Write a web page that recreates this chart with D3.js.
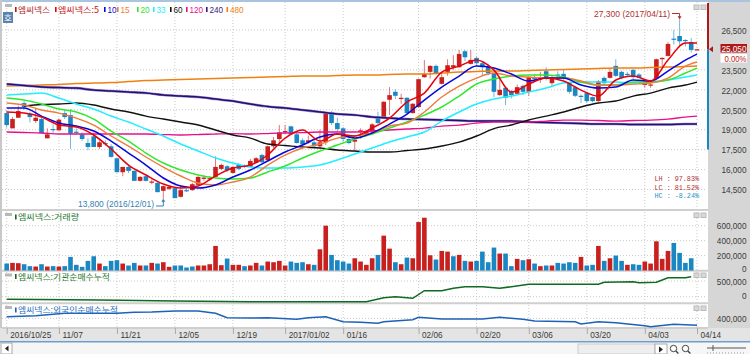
<!DOCTYPE html>
<meta charset="utf-8">
<style type="text/css">
  html, body { margin: 0; padding: 0; background: #fff; overflow: hidden; }
  svg { display: block; }
  text { font-family: "Liberation Sans", sans-serif; font-size: 9px; }
  .kr { font-family: "Noto Sans CJK KR", sans-serif; font-size: 8.5px; }
  .mono { font-family: "Liberation Mono", monospace; font-size: 8px; }
  .axis text { fill: #3a3a3a; }
  .axis .domain, .axis line { display: none; }
  .grid { stroke: #c9c9c9; stroke-width: 1; stroke-dasharray: 1 2; }
  .sep { stroke: #cfcfcf; stroke-width: 2; }
</style>
<body></body>
<script src="https://d3js.org/d3.v7.min.js"></script>
<script>

var open = [20250,19100,19900,21000,20200,19650,19800,18350,19050,18950,
  20250,20100,18850,18650,18000,18500,17700,18000,17750,16850,
  15800,16200,15900,15150,15500,15050,15000,14400,14550,14600,
  13950,14450,14450,14850,15300,15300,15450,16050,16250,15750,
  16350,16300,16200,16500,17100,16700,17750,18300,18800,19250,
  18650,18200,18050,18050,17750,18050,20300,19500,19100,18300,
  18100,18800,18600,18900,19950,19950,21250,21850,21350,21400,
  20250,20700,22950,23350,23800,22450,23350,23700,23700,24900,
  23950,24400,24000,23800,23250,21600,22150,21900,21700,22300,
  21850,22900,22800,23400,22500,23150,23200,22500,22200,21550,
  21750,21450,21150,22900,22900,23800,23350,23200,23500,23150,
  22400,22350,22900,24300,24550,25850,26050,25750,25600,25000];
var close = [19350,19800,20400,20700,19950,19900,18750,18650,19000,19750,
  19950,18700,18800,18300,17700,17700,18050,17950,16950,15800,
  16200,15900,15150,15450,15150,15100,14300,14750,14700,13850,
  14450,14400,14900,15450,15400,15350,16200,16350,15950,16200,
  16050,16250,16650,16850,16550,17750,18200,18800,18900,18650,
  18000,17900,18200,17750,18050,20250,19500,19050,18300,18000,
  18250,18950,18900,19400,19500,21100,21600,21550,21400,20250,
  20950,22800,23200,23800,23200,22950,23850,23850,24700,24450,
  24250,24000,23700,23250,21850,22000,21400,21600,22200,21850,
  22950,22850,22950,22900,22950,23100,22950,21850,21550,21500,
  21150,21150,22650,22500,23350,23050,22900,23150,22950,22900,
  22450,22400,24300,24400,25450,25800,25650,25700,25000,25050];
var high = [20450,19950,20800,21150,20350,20600,19900,19100,19400,19850,
  20500,20550,19100,18800,18350,18800,18200,18200,17900,16900,
  16200,16300,15950,15500,15550,15250,15050,14800,14800,14650,
  14850,14600,15000,15500,15550,15500,17000,16450,16350,16250,
  16500,16400,16800,16950,17200,17800,18450,19350,19350,19300,
  18750,18350,18550,18200,19000,20350,20400,19900,19200,18400,
  18350,19100,18950,19500,20350,21150,22200,22050,21700,21450,
  21000,22850,24250,23850,23900,23300,24300,24600,25000,25000,
  25000,24500,24100,23950,23300,23000,22250,22000,22400,22400,
  23000,23200,23350,23700,23050,23400,23550,22600,22300,21650,
  21850,21500,22750,23000,23650,24300,23450,23350,23550,23250,
  22700,22750,24350,24450,25600,26500,27300,25800,25900,25050];
var low = [19150,19100,19900,20500,19550,19500,18700,18350,18750,18950,
  19800,17550,18650,18150,17450,17700,17550,17800,16900,15800,
  15500,15750,15150,15100,15100,14900,14300,13800,14450,13850,
  13900,14300,14400,14800,15150,15150,15400,15950,15800,15700,
  15950,16100,16200,16450,16500,16650,17600,17900,18700,18650,
  17950,17850,17950,17650,17550,17850,19350,18900,18100,17900,
  17400,18300,18500,18850,19400,19900,20100,21300,20950,20200,
  20200,20650,22900,22850,23150,22400,23050,23500,23650,24150,
  23900,23750,23100,23100,21450,21550,20850,21350,21600,21600,
  21550,22600,22500,22700,22300,22750,22750,21700,21450,21000,
  21000,21050,21100,22450,22850,22950,22800,23000,22800,22850,
  22150,22150,22850,23750,24500,25400,25200,25250,24800,25000];

// moving averages are read every third session, last one at the last session
var maIdx = d3.range(0, 120, 3).concat([119]);
var ma5 = [20330,20250,19950,19350,19200,18600,17550,16340,15590,14910,14610,14760,15515,16115,16340,17095,18370,18975,18145,18675,18525,19125,19875,21080,21755,23335,23785,24240,23485,21830,22430,22885,22660,21980,21530,22735,23035,22660,24240,25515,25515];
var ma10 = [20630,20630,20025,19500,19275,18900,18145,17245,16340,15365,14760,14610,14840,15440,15965,16645,17320,17845,18450,18675,18370,18750,19425,20175,21230,22210,23035,23785,23635,23185,22660,22885,22885,22360,22130,22210,22735,22660,23410,24240,24690];
var ma15 = [21005,20855,20480,20250,19875,19350,18525,17770,16945,16190,15515,14990,14840,15065,15440,16340,17095,17620,17920,18370,18525,18750,19275,19500,20330,21455,22280,22885,23260,23035,22960,22885,22885,22660,22360,22360,22430,22510,22885,23785,24090];
var ma20 = [21380,21230,20930,20555,20330,19800,18900,18145,17245,16495,15965,15590,15365,15290,15365,15815,16270,16870,17395,17845,18300,18675,19125,19575,20100,20705,21530,22435,22810,23035,23110,23110,22960,22585,22360,22360,22585,22585,22735,23260,23635];
var ma33 = [21605,21680,21755,21380,20930,20555,20025,19575,19050,18525,17920,17395,16870,16490,16190,16115,16115,16190,16340,16720,17170,17620,18070,18450,18825,19650,20330,20930,21305,21530,21830,22130,22510,22585,22585,22585,22510,22585,22735,22960,23110];
var ma60 = [null,20780,20890,20930,21005,20855,20555,20330,20025,19800,19575,19350,18975,18600,18370,17920,17810,17695,17620,17470,17395,17320,17320,17430,17545,17770,18070,18525,19085,19350,19725,20025,20330,20705,21005,21155,21530,21755,22130,22360,22585];
var ma120 = [18825,18790,18750,18675,18675,18675,18675,18675,18675,18635,18600,18635,18675,18710,18675,18710,18750,18785,18825,18825,18825,18900,18975,19050,19125,19275,19350,19500,19575,19575,19575,19650,19725,19725,19690,19650,19690,19725,19800,19950,20025];
var ma240 = [22435,22320,22210,22170,22130,21980,21905,21830,21755,21605,21530,21455,21305,21155,20930,20740,20630,20480,20330,20175,20100,19950,19875,19800,19765,19725,19690,19650,19650,19650,19575,19540,19500,19465,19425,19425,19390,19390,19390,19425,19425];
var ma480 = [22280,22320,22360,22395,22470,22510,22545,22620,22695,22735,22770,22810,22845,22885,22920,22960,22995,23035,23035,23070,23110,23110,23150,23185,23185,23260,23335,23375,23410,23410,23450,23485,23525,23560,23600,23635,23635,23675,23710,23750,23785];

// volume in thousands of shares, B = blue bar, R = red bar
var volume = [93,102,98,84,58,53,84,53,58,53,58,182,76,49,129,191,93,58,129,138,93,67,102,67,67,102,93,111,49,67,67,40,53,67,67,84,329,71,160,76,76,58,
  67,102,67,120,111,129,67,120,102,111,84,76,284,600,209,138,120,93,164,120,76,164,209,467,293,111,84,173,164,649,707,204,147,262,253,191,209,129,120,129,253,111,307,227,
  227,58,156,138,151,93,58,67,67,102,93,111,102,182,67,76,329,129,164,200,129,76,84,76,120,93,391,156,262,369,236,102,164,0];
var volDir = "BRRBBRBRBRBBBBBBRBBBRBBRBRBRRBBBBRRRRRBRRB".slice(0, 42) +
  "RRBRRRRBBBRBRRBBBBRRRRBRRBRBRRRRBRRBRBRBBBBR" +
  "BBRBRBRBRBBBBRBBRBRBBRBBRRRRRBBBBR";

// cumulative net buying in thousands, read at the sessions listed
var instIdx = [0,16,29,42,62,65,67,70,72,75,77,79,82,85,90,96,102,103,108,109,112,114,117,118];
var instNet = [-83,-105,-137,-159,-159,-32,0,-51,191,191,268,318,318,268,395,395,395,459,478,446,459,605,605,637];
var forIdx = [0,5,10,19,22,25,29,33,36,38,42,45,50,52,55,58,61,64,65,70,71,75,82,85,89,91,98,99,102,105,110,111,115,119];
var forNet = [454,486,562,562,594,604,636,636,562,422,413,422,371,422,454,295,276,244,295,359,435,381,381,435,371,317,295,222,295,263,168,136,212,180];

var dateIdx = [0,9,19,29,39,48,58,71,81,90,100,110,119];
var dateLabels = ["2016/10/25","11/07","11/21","12/05","12/19","2017/01/02","01/16","02/06","02/20","03/06","03/20","04/03","04/14"];
var priceGrid = [14500,16000,17500,19000,20500,22000,23500,25000,26500];
var priceTicks = [14500,16000,17500,19000,20500,22000,23500,26500];
var volTicks = [0,200,400,600];

var red = "#c8201f", blue = "#1a86c2";

var width = 750, height = 354;
var svg = d3.select("body").append("svg").attr("width", width).attr("height", height);

var x = d3.scaleLinear().domain([0, 119]).range([6.7, 697]);
var y = d3.scaleLinear().domain([14500, 26500]).range([189.5, 30]);
var yVol = d3.scaleLinear().domain([0, 600]).range([270.5, 225.7]);
var yInst = d3.scaleLinear().domain([0, 500]).range([296.7, 281]);
var yFor = d3.scaleLinear().domain([0, 400]).range([331, 318.4]);

// the original uses a narrow bitmap font, so labels get squeezed to its widths
function labelWidth(s) {
  var w = 0;
  for (var k = 0; k < s.length; k++) {
    w += ",./:".indexOf(s[k]) >= 0 ? 2.28 : s[k] == "%" ? 6 : 4.56;
  }
  return w;
}
function squeeze(sel) {
  sel.attr("textLength", function () { return labelWidth(this.textContent); })
    .attr("lengthAdjust", "spacingAndGlyphs");
}
// end aligned labels start at their own width left of the edge
function alignEnd(sel, edge) {
  sel.attr("text-anchor", "start")
    .attr("x", function () { return edge - labelWidth(this.textContent); })
    .call(squeeze);
}

// frame
svg.append("rect").attr("x", 0).attr("y", 0).attr("width", width).attr("height", 2).attr("fill", "#a9c4de");
svg.append("rect").attr("x", 0).attr("y", 0).attr("width", 2).attr("height", 342).attr("fill", "#c8c8c8");
svg.append("rect").attr("x", 708).attr("y", 2).attr("width", 42).attr("height", 326).attr("fill", "#d6d6d6");
svg.append("rect").attr("x", 0).attr("y", 328).attr("width", width).attr("height", 14).attr("fill", "#e4e4e4");
svg.append("rect").attr("x", 0).attr("y", 342).attr("width", width).attr("height", 12).attr("fill", "#f6f6f6");
svg.append("rect").attr("x", 0).attr("y", 341).attr("width", width).attr("height", 1.5).attr("fill", "#6b9fd0");

// grid
svg.append("g").selectAll("line").data(dateIdx).enter().append("line")
  .attr("class", "grid")
  .attr("x1", function (d) { return x(d); }).attr("x2", function (d) { return x(d); })
  .attr("y1", 2).attr("y2", 328);
svg.append("g").selectAll("line").data(priceGrid).enter().append("line")
  .attr("class", "grid")
  .attr("x1", 2).attr("x2", 707)
  .attr("y1", function (d) { return y(d); }).attr("y2", function (d) { return y(d); });
svg.append("g").selectAll("line").data([200, 400, 600]).enter().append("line")
  .attr("class", "grid")
  .attr("x1", 2).attr("x2", 707)
  .attr("y1", function (d) { return yVol(d); }).attr("y2", function (d) { return yVol(d); });
[yInst(0), yInst(500), yFor(400)].forEach(function (g) {
  svg.append("line").attr("class", "grid").attr("x1", 2).attr("x2", 707).attr("y1", g).attr("y2", g);
});

// pane separators
[210, 270.8, 303.3, 328].forEach(function (s) {
  svg.append("line").attr("class", "sep").attr("x1", 2).attr("x2", 708).attr("y1", s).attr("y2", s);
});

// candles
var candles = svg.append("g").selectAll("g").data(d3.range(120)).enter().append("g");
function candleColor(i) { return close[i] >= open[i] ? red : blue; }
candles.append("line")
  .attr("x1", function (i) { return x(i); }).attr("x2", function (i) { return x(i); })
  .attr("y1", function (i) { return y(high[i]); }).attr("y2", function (i) { return y(low[i]); })
  .attr("stroke", candleColor).attr("stroke-opacity", 0.6).attr("stroke-width", 1);
candles.append("rect")
  .attr("x", function (i) { return x(i) - 2.3; })
  .attr("width", 4.6)
  .attr("y", function (i) { return y(Math.max(open[i], close[i])); })
  .attr("height", function (i) { return Math.max(1.2, Math.abs(y(open[i]) - y(close[i]))); })
  .attr("fill", candleColor);

// moving averages
var maLine = d3.line()
  .defined(function (d) { return d.v !== null; })
  .x(function (d) { return x(d.i); })
  .y(function (d) { return y(d.v); })
  .curve(d3.curveMonotoneX);
var maSeries = [
  {v: ma480, c: "#f08010", w: 1.5}, {v: ma240, c: "#9a88d0", w: 2.6}, {v: ma240, c: "#241070", w: 1.5}, {v: ma120, c: "#e8108a", w: 1.3},
  {v: ma60, c: "#111111", w: 1.4}, {v: ma33, c: "#22eeff", w: 1.5}, {v: ma20, c: "#2ee82e", w: 1.5},
  {v: ma15, c: "#f07a3c", w: 1.4}, {v: ma10, c: "#0808d8", w: 1.5}, {v: ma5, c: "#e8000c", w: 1.5}
];
svg.append("g").selectAll("path").data(maSeries).enter().append("path")
  .attr("d", function (s) { return maLine(s.v.map(function (v, k) { return {i: maIdx[k], v: v}; })); })
  .attr("fill", "none")
  .attr("stroke", function (s) { return s.c; })
  .attr("stroke-width", function (s) { return s.w; });

// high and low notes
function note(txt, color, left, ty, len) {
  svg.append("text").attr("x", left).attr("y", ty).attr("textLength", len)
    .attr("lengthAdjust", "spacingAndGlyphs").attr("fill", color).text(txt);
}
note("27,300 (2017/04/11)", "#b03030", 594, 16.5, 76);
svg.append("path").attr("fill", "none").attr("stroke", "#b03030")
  .attr("d", "M672,13.5H" + x(116) + "V" + (y(27300) - 1));
svg.append("path").attr("fill", "#b03030")
  .attr("d", "M" + (x(116) - 2) + "," + (y(27300) - 3) + "h4l-2,3z");
note("13,800 (2016/12/01)", "#3a7fb0", 78, 206.5, 76);
svg.append("path").attr("fill", "none").attr("stroke", "#3a7fb0")
  .attr("d", "M156,206H" + x(27) + "V" + (y(13800) + 1));
svg.append("path").attr("fill", "#3a7fb0")
  .attr("d", "M" + (x(27) - 2) + "," + (y(13800) + 3) + "h4l-2,-3z");

[["LH : 97.83%", "#b03030", 181], ["LC : 81.52%", "#b03030", 189.7], ["HC : -8.24%", "#2b8fc4", 198.4]].forEach(function (r) {
  svg.append("text").attr("class", "mono").attr("x", 654.5).attr("y", r[2]).attr("textLength", 44.5)
    .attr("lengthAdjust", "spacingAndGlyphs").attr("fill", r[1]).text(r[0]);
});

// volume
svg.append("g").selectAll("rect").data(volume).enter().append("rect")
  .attr("x", function (d, i) { return x(i) - 2.3; })
  .attr("width", 4.6)
  .attr("y", function (d) { return yVol(d); })
  .attr("height", function (d) { return yVol(0) - yVol(d); })
  .attr("fill", function (d, i) { return volDir[i] == "R" ? red : blue; });

// net buying lines
var instLine = d3.line().x(function (d, k) { return x(instIdx[k]); }).y(function (d) { return yInst(d); });
svg.append("path").attr("d", instLine(instNet)).attr("fill", "none").attr("stroke", "#0f6a22").attr("stroke-width", 1.5);
var forLine = d3.line().x(function (d, k) { return x(forIdx[k]); }).y(function (d) { return yFor(d); });
svg.append("path").attr("d", forLine(forNet)).attr("fill", "none").attr("stroke", "#1c62b8").attr("stroke-width", 1.5);

// right side scale bar
svg.append("rect").attr("x", 707).attr("y", 3).attr("width", 2).attr("height", y(25050) - 3).attr("fill", "#b01818");
svg.append("rect").attr("x", 707).attr("y", y(25050)).attr("width", 2).attr("height", 149.5 - y(25050)).attr("fill", "#1a86c2");
svg.append("path").attr("fill", "#b01818").attr("d", "M709," + y(25050) + "l4,-3v6z");

// axes
function rightAxis(scale, ticks, fmt, nudge) {
  var g = svg.append("g").attr("class", "axis")
    .call(d3.axisRight(scale).tickValues(ticks).tickSize(0).tickFormat(fmt));
  g.selectAll("text").attr("dy", "0.36em")
    .attr("transform", function (d) { return d == 0 ? "translate(0," + nudge + ")" : null; })
    .call(alignEnd, 746.5);
}
rightAxis(y, priceTicks, d3.format(","), 0);
rightAxis(yVol, volTicks, function (d) { return d3.format(",")(d * 1000); }, -2.5);
rightAxis(yInst, [0, 500], function (d) { return d3.format(",")(d * 1000); }, -1);
rightAxis(yFor, [400], function (d) { return d3.format(",")(d * 1000); }, 0);

svg.append("rect").attr("x", 720.5).attr("y", 44).attr("width", 26.5).attr("height", 8.5).attr("fill", "#b01818");
svg.append("text").attr("y", 51.5).attr("fill", "#fff").text("25,050").call(alignEnd, 746.5);
svg.append("rect").attr("x", 720.5).attr("y", 54).attr("width", 26.5).attr("height", 8.5).attr("fill", "#fff");
svg.append("text").attr("y", 61.5).attr("fill", "#c02020").text("0.00%").call(alignEnd, 746.5);

var dateAxis = svg.append("g").attr("class", "axis").attr("transform", "translate(0,328)")
  .call(d3.axisBottom(x).tickValues(dateIdx).tickSize(0).tickFormat(function (d, k) { return dateLabels[k]; }));
dateAxis.selectAll("text").attr("text-anchor", "start").attr("x", 3).attr("y", 4).attr("dy", "0.71em").call(squeeze);
dateAxis.selectAll(".tick").append("path").attr("d", "M0,0V6").attr("stroke", "#aaa");

// legend
var kr = "\uC5E0\uC528\uB125\uC2A4";
function marker(mx, my, c) {
  svg.append("rect").attr("x", mx).attr("y", my).attr("width", 1.6).attr("height", 5).attr("fill", c);
}
function krText(txt, tx, ty, c, len) {
  svg.append("text").attr("class", "kr").attr("x", tx).attr("y", ty).attr("textLength", len)
    .attr("lengthAdjust", "spacingAndGlyphs").attr("fill", c).text(txt);
}
marker(15, 7, "#b01818");
krText(kr, 18, 12.5, "#b01818", 32);
marker(55, 7, "#e00010");
krText(kr + ":5", 58, 12.5, "#c81020", 41);
[["10", 104, "#0808d8"], ["15", 117, "#f07a3c"], ["20", 137, "#2ee82e"], ["33", 153, "#22eeff"],
 ["60", 170, "#111"], ["120", 186, "#e8108a"], ["240", 206, "#3a1c80"], ["480", 226.5, "#f08010"]].forEach(function (l) {
  marker(l[1], 7, l[2]);
  svg.append("text").attr("x", l[1] + 3.5).attr("y", 12.8).attr("fill", l[2]).text(l[0]).call(squeeze);
});

marker(15, 214.5, "#0f6a22");
krText(kr + ":\uAC70\uB798\uB7C9", 18, 220, "#1f7a30", 61);
marker(15, 274, "#0f6a22");
krText(kr + ":\uAE30\uAD00\uC21C\uB9E4\uC218\uB204\uC801", 18, 280, "#1f7a30", 92);
marker(15, 307.5, "#1c62b8");
krText(kr + ":\uC678\uAD6D\uC778\uC21C\uB9E4\uC218\uB204\uC801", 18, 313, "#2a6fc0", 100);

// window chrome
[[5, 4], [5, 213], [5, 273.5], [5, 306]].forEach(function (p) {
  svg.append("rect").attr("x", p[0]).attr("y", p[1]).attr("width", 7).attr("height", 3).attr("fill", "#b8b8b8");
});
svg.append("rect").attr("x", 3).attr("y", 12).attr("width", 10).attr("height", 11).attr("fill", "#5a83ad");
svg.append("text").attr("class", "kr").attr("x", 8).attr("y", 20.5).attr("text-anchor", "middle").attr("fill", "#fff").text("\uD638");
[5, 213, 273, 306].forEach(function (py) {
  svg.append("rect").attr("x", 694).attr("y", py).attr("width", 5).attr("height", 4.5).attr("fill", "#d8d8d8").attr("stroke", "#bbb");
  svg.append("rect").attr("x", 701).attr("y", py).attr("width", 5).attr("height", 4.5).attr("fill", "#d8d8d8").attr("stroke", "#bbb");
});
svg.append("rect").attr("x", 1).attr("y", 343).attr("width", 11).attr("height", 11).attr("fill", "#fff").attr("stroke", "#aaa");
svg.append("path").attr("d", "M8.5,345.5v6l-3.5,-3z").attr("fill", "#222");
svg.append("rect").attr("x", 578).attr("y", 344).attr("width", 77).attr("height", 10).attr("fill", "#eee").attr("stroke", "#ccc");
svg.append("rect").attr("x", 655).attr("y", 344).attr("width", 12).attr("height", 10).attr("fill", "#fff").attr("stroke", "#aaa");
svg.append("path").attr("d", "M659,346.5v6l4,-3z").attr("fill", "#222");
[673.5, 685.5].forEach(function (m) {
  svg.append("circle").attr("cx", m).attr("cy", 348.5).attr("r", 3.2).attr("fill", "#fff").attr("stroke", "#444");
  svg.append("path").attr("d", "M" + (m + 2.4) + ",351l2.5,2.5").attr("stroke", "#444").attr("stroke-width", 1.4);
});
svg.append("path").attr("d", "M707,348H746M713,345V351").attr("stroke", "#555").attr("fill", "none");
svg.append("path").attr("d", "M707,353H746").attr("stroke", "#999").attr("stroke-dasharray", "1 2");

</script>
